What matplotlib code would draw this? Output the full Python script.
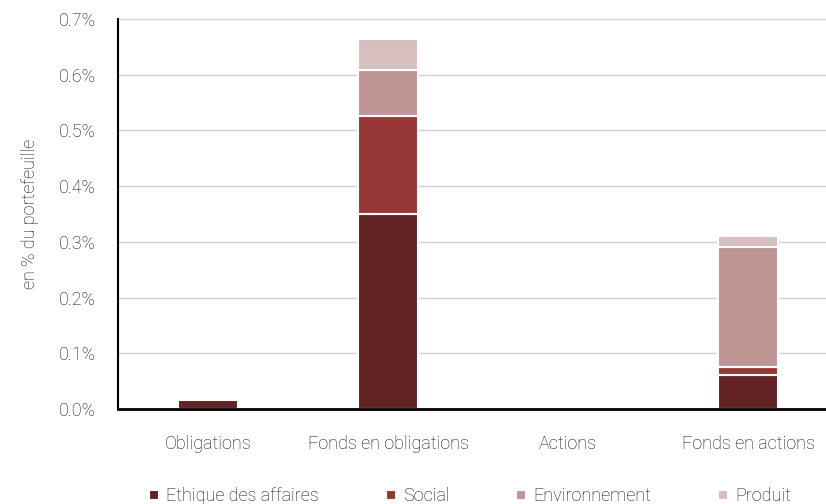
"""Stacked bars: ESG controversies by asset class."""

import numpy as np
from matplotlib import pyplot as plt
from matplotlib.ticker import FuncFormatter

plt.rcParams["font.family"] = ["Roboto", "DejaVu Sans"]
plt.rcParams["font.weight"] = "light"
plt.rcParams["axes.labelweight"] = "light"

categories = ["Obligations", "Fonds en obligations", "Actions", "Fonds en actions"]
series_names = ["Ethique des affaires", "Social", "Environnement", "Produit"]
ethique = [0.016, 0.350, 0.0, 0.061]
social = [0.0, 0.176, 0.0, 0.014]
environnement = [0.0, 0.083, 0.0, 0.216]
produit = [0.0, 0.055, 0.0, 0.020]
colors = ["#632323", "#973737", "#bf9594", "#d7bfbf"]

fig = plt.figure(figsize=(8.26, 5.04), dpi=100)
ax = fig.add_axes([118 / 826, (504 - 409) / 504, 708 / 826, 390 / 504])

x = np.arange(len(categories))
bottom = np.zeros(len(categories))
for name, vals, col in zip(series_names, [ethique, social, environnement, produit], colors):
    vals = np.array(vals)
    keep = vals > 0
    ax.bar(x[keep], vals[keep], width=0.333, bottom=bottom[keep], color=col,
           edgecolor="white", linewidth=1.5, label=name, zorder=3)
    bottom += vals

ax.set_xlim(-0.5, 3.433)
ax.set_ylim(0, 0.7)
ax.set_yticks(np.arange(0, 0.71, 0.1))
ax.yaxis.set_major_formatter(FuncFormatter(lambda v, _: f"{v:.1f}%"))
ax.set_xticks(x)
ax.set_xticklabels(categories)
ax.tick_params(axis="both", length=0, labelsize=13, colors="#111111")
ax.tick_params(axis="x", pad=19)
ax.tick_params(axis="y", pad=16)
ax.grid(axis="y", color="#d0d0d0", linewidth=1, zorder=0)
ax.set_axisbelow(True)

for side in ["top", "right"]:
    ax.spines[side].set_visible(False)
ax.spines["left"].set_linewidth(1.5)
ax.spines["bottom"].set_linewidth(2)
for sp in ax.spines.values():
    sp.set_zorder(5)

ax.set_ylabel("en % du portefeuille", fontsize=13, color="#111111", labelpad=14)

leg = fig.legend(loc="lower center", bbox_to_anchor=(0.569, -0.035), ncol=4,
                 frameon=False, fontsize=13, handlelength=0.55, handleheight=0.55,
                 handletextpad=0.4, columnspacing=3.7)
for t in leg.get_texts():
    t.set_color("#111111")

plt.savefig("out.png", dpi=100)
